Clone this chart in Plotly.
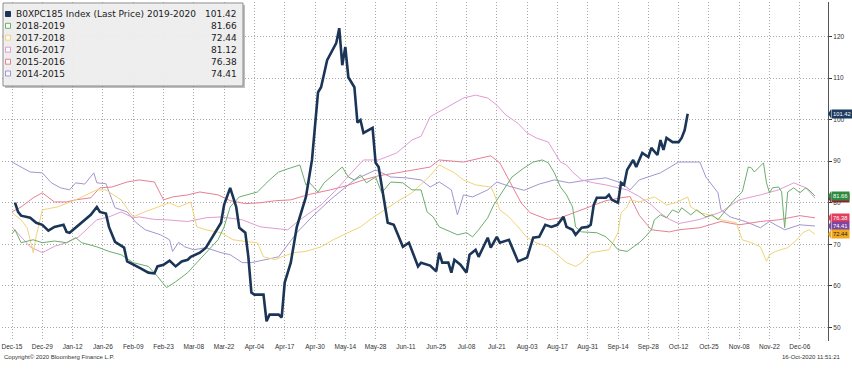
import plotly.graph_objects as go

# ---------------- data ----------------
tick_days = list(range(0, 261, 10))
tick_labels = ["Dec-15", "Dec-29", "Jan-12", "Jan-26", "Feb-09", "Feb-23", "Mar-08",
               "Mar-22", "Apr-04", "Apr-17", "Apr-30", "May-14", "May-28", "Jun-11",
               "Jun-25", "Jul-08", "Jul-21", "Aug-03", "Aug-17", "Aug-31", "Sep-14",
               "Sep-28", "Oct-12", "Oct-25", "Nov-08", "Nov-22", "Dec-06"]
y_ticks = [50, 60, 70, 80, 90, 100, 110, 120]

main_days = [1, 2, 3, 6, 8, 10, 12, 14, 17, 18, 19, 21, 23, 26, 28, 29, 31, 32, 34, 36,
             37, 38, 41, 42, 45, 47, 48, 50, 52, 54, 56, 58, 59, 62, 64, 66, 69, 70, 72, 74,
             75, 77, 78, 79, 80, 83, 84, 85, 88, 89, 90, 92, 94, 97, 99, 101, 102, 104, 106, 107,
             108, 109, 110, 111, 113, 114, 115, 116, 119, 120, 121, 124, 126, 129, 131, 134, 135, 138, 140, 141,
             142, 144, 145, 146, 148, 150, 151, 153, 154, 157, 158, 160, 161, 164, 167, 170, 172, 174, 176, 178,
             180, 182, 183, 185, 186, 188, 190, 191, 192, 193, 196, 197, 198, 200, 201, 202, 203, 204, 205, 206,
             208, 210, 211, 213, 214, 215, 216, 218, 220, 221, 222, 223]
main_vals = [80.0, 77.8, 76.9, 76.4, 75.2, 74.7, 73.3, 74.2, 74.7, 73.0, 72.8, 74.0, 75.2, 77.1, 79.0, 77.8, 77.4, 74.2, 70.6, 69.7,
             69.2, 65.9, 64.9, 64.4, 63.2, 63.0, 64.7, 65.1, 66.1, 64.7, 65.9, 66.3, 67.0, 68.0, 69.2, 71.6, 75.2, 79.5, 83.6, 79.0,
             74.0, 72.8, 67.0, 58.4, 57.9, 57.9, 51.5, 53.1, 53.1, 52.4, 60.8, 65.6, 74.2, 81.4, 90.3, 106.6, 107.8, 114.3, 117.2, 118.4,
             122.0, 113.1, 117.5, 110.2, 107.8, 99.3, 99.9, 96.8, 98.0, 89.6, 88.6, 75.2, 74.7, 69.4, 70.4, 64.7, 65.6, 64.9, 63.5, 68.0,
             65.6, 65.6, 63.2, 66.3, 65.1, 63.2, 67.5, 68.7, 67.0, 71.6, 69.2, 71.8, 70.4, 71.1, 65.9, 66.8, 71.6, 71.8, 74.7, 74.2,
             74.7, 76.6, 74.2, 73.5, 72.3, 74.0, 74.2, 74.7, 79.5, 81.2, 81.2, 81.9, 80.7, 80.0, 84.8, 84.3, 87.9, 89.1, 90.3, 88.6,
             92.0, 91.0, 93.2, 91.5, 95.1, 92.7, 95.6, 94.6, 94.6, 95.6, 97.5, 101.42]

y1819_days = [0, 1, 3, 7, 10, 14, 18, 21, 23, 28, 32, 36, 40, 45, 48, 51, 54, 58, 61, 64,
              68, 70, 72, 75, 81, 85, 88, 92, 95, 97, 98, 101, 103, 106, 109, 111, 113, 115, 117, 120,
              122, 125, 129, 132, 135, 137, 139, 141, 145, 147, 150, 152, 154, 157, 159, 163, 165, 169, 172, 175,
              177, 179, 181, 183, 185, 186, 188, 193, 196, 198, 200, 203, 205, 207, 209, 211, 212, 214, 216, 218,
              220, 221, 224, 226, 229, 231, 233, 235, 237, 239, 241, 243, 244, 245, 248, 249, 250, 251, 253, 254,
              255, 256, 258, 260, 262, 263, 265]
y1819_vals = [72.5, 73.5, 70.4, 71.1, 70.4, 70.8, 70.4, 71.6, 70.4, 69.4, 68.3, 67.5, 65.6, 64.7, 62.3, 59.6, 61.0, 63.2, 65.6, 68.0,
              71.1, 74.2, 79.0, 81.4, 82.6, 85.5, 87.4, 88.4, 89.1, 84.3, 85.0, 82.6, 84.8, 86.7, 88.6, 86.2, 85.5, 86.7, 84.8, 86.2,
              82.4, 85.0, 84.8, 83.1, 83.1, 77.8, 76.6, 74.2, 72.8, 72.3, 72.8, 71.8, 73.5, 76.4, 79.5, 83.8, 86.2, 88.4, 89.8, 90.3,
              89.6, 87.2, 83.8, 81.9, 79.0, 74.2, 73.0, 72.8, 71.8, 70.4, 68.7, 68.3, 69.4, 70.4, 71.8, 73.5, 75.9, 77.1, 76.4, 78.3,
              77.6, 78.8, 77.1, 78.3, 76.6, 77.1, 75.9, 77.8, 79.5, 81.2, 82.6, 88.6, 88.4, 87.4, 89.6, 84.8, 82.4, 83.6, 83.8, 82.6,
              74.0, 82.6, 83.6, 82.4, 83.6, 83.1, 81.66]

y1718_days = [0, 3, 5, 7, 8, 10, 15, 21, 28, 31, 36, 40, 43, 48, 52, 55, 59, 61, 64, 69,
              73, 78, 81, 83, 87, 89, 93, 97, 102, 106, 111, 115, 119, 124, 128, 132, 135, 138, 141, 146,
              149, 153, 158, 159, 161, 164, 167, 170, 173, 177, 180, 183, 186, 188, 191, 194, 197, 200, 201, 203,
              204, 207, 212, 216, 219, 223, 224, 227, 230, 234, 237, 239, 241, 244, 247, 249, 250, 252, 256, 259,
              261, 263, 265]
y1718_vals = [77.6, 75.9, 74.0, 68.0, 72.0, 78.3, 79.0, 80.7, 83.1, 83.1, 80.7, 76.6, 77.6, 79.0, 80.0, 79.0, 80.2, 74.2, 73.5, 72.8,
              71.1, 70.6, 70.4, 67.0, 66.3, 67.0, 68.0, 68.3, 69.4, 71.1, 72.8, 74.2, 76.4, 78.8, 80.7, 82.4, 84.5, 86.5, 89.1, 87.2,
              85.5, 84.3, 83.8, 82.4, 78.3, 76.6, 74.2, 71.6, 70.4, 69.4, 67.5, 65.6, 64.7, 65.6, 68.0, 68.3, 68.7, 72.8, 77.6, 79.0,
              80.7, 80.2, 81.4, 79.5, 80.0, 81.4, 79.0, 77.6, 77.1, 75.9, 75.5, 75.2, 71.1, 70.4, 69.4, 65.9, 67.5, 68.3, 69.2, 71.1,
              72.8, 73.5, 72.44]

y1617_days = [0, 6, 10, 14, 18, 22, 28, 32, 36, 40, 42, 47, 51, 58, 64, 69, 76, 82, 91, 95,
              102, 107, 112, 116, 121, 127, 132, 135, 138, 141, 145, 149, 153, 157, 160, 163, 167, 170, 173, 177,
              179, 181, 183, 185, 188, 192, 196, 200, 203, 207, 211, 214, 217, 220, 224, 227, 234, 240, 247, 253,
              258, 262, 265]
y1617_vals = [74.2, 69.4, 68.0, 69.5, 70.4, 71.8, 75.9, 76.6, 77.8, 76.4, 76.6, 76.0, 75.9, 75.5, 76.4, 76.6, 75.9, 74.2, 73.5, 75.9,
              79.5, 83.1, 87.2, 90.3, 90.3, 92.0, 95.1, 96.0, 100.7, 101.9, 103.5, 105.2, 105.9, 105.2, 103.5, 101.1, 99.1, 96.8, 95.6, 94.6,
              92.2, 89.8, 89.1, 87.4, 85.5, 84.8, 84.3, 83.6, 83.1, 81.5, 79.5, 77.5, 76.0, 75.0, 75.5, 76.0, 77.8, 80.7, 81.9, 83.1,
              84.8, 83.6, 81.12]

y1516_days = [0, 3, 7, 10, 14, 18, 21, 26, 29, 33, 38, 42, 47, 50, 53, 58, 62, 68, 72, 77,
              82, 87, 92, 98, 105, 110, 116, 121, 127, 138, 141, 149, 158, 161, 164, 168, 171, 177, 181, 186,
              192, 196, 201, 204, 207, 211, 217, 220, 227, 234, 240, 247, 253, 260, 265]
y1516_vals = [77.8, 79.0, 81.2, 82.4, 80.2, 80.2, 80.7, 81.2, 83.6, 83.8, 85.0, 85.5, 85.0, 80.7, 81.4, 81.9, 82.6, 81.9, 80.5, 79.8,
              80.0, 80.5, 80.7, 82.0, 83.1, 84.0, 85.5, 86.5, 87.2, 88.6, 90.3, 89.8, 91.3, 89.6, 85.5, 80.0, 77.6, 75.9, 76.4, 77.8,
              79.5, 80.5, 81.2, 81.5, 77.0, 73.5, 73.0, 73.5, 74.0, 75.5, 74.7, 75.5, 75.9, 76.9, 76.38]

y1415_days = [0, 6, 10, 13, 16, 19, 21, 24, 27, 28, 31, 32, 34, 36, 38, 41, 44, 49, 52, 53,
              55, 57, 60, 64, 69, 72, 76, 79, 83, 88, 94, 99, 105, 113, 120, 125, 130, 135, 138, 141,
              145, 147, 149, 152, 157, 160, 164, 169, 174, 179, 184, 190, 196, 201, 204, 207, 214, 220, 227, 229,
              233, 234, 237, 242, 247, 250, 255, 260, 265]
y1415_vals = [89.8, 87.4, 87.2, 84.8, 83.6, 83.1, 84.8, 84.5, 87.2, 84.8, 84.6, 82.6, 78.8, 78.3, 77.8, 75.2, 73.5, 72.3, 71.1, 68.3,
              70.5, 69.4, 68.7, 69.2, 68.0, 67.5, 65.6, 65.6, 66.3, 67.0, 72.8, 76.6, 80.7, 85.5, 87.9, 86.2, 86.0, 85.5, 83.8, 85.0,
              83.1, 77.1, 81.9, 81.4, 83.1, 85.0, 84.0, 83.0, 84.5, 85.5, 84.8, 85.5, 86.0, 84.8, 83.1, 85.5, 87.2, 89.8, 89.8, 86.2,
              82.4, 78.3, 76.6, 75.5, 74.0, 75.5, 73.5, 74.7, 74.41]

series_names = ["B0XPC185 Index (Last Price) 2019-2020", "2018-2019", "2017-2018",
                "2016-2017", "2015-2016", "2014-2015"]
last_values = [101.42, 81.66, 72.44, 81.12, 76.38, 74.41]

# ---------------- styles ----------------
line_colors = ["#1b3556", "#6cae6c", "#f0d47a", "#e39bd2", "#e77f95", "#a396cf"]
line_widths = [2.6, 1, 1, 1, 1, 1]
tag_colors = ["#1d3c5f", "#2e8b3e", "#f0a91e", "#8b2332", "#e43d5c", "#7c47a1"]
tag_text = ["white", "white", "#222222", "white", "white", "white"]

all_days = [main_days, y1819_days, y1718_days, y1617_days, y1516_days, y1415_days]
all_vals = [main_vals, y1819_vals, y1718_vals, y1617_vals, y1516_vals, y1415_vals]
for d, v in zip(all_days, all_vals):
    assert len(d) == len(v), (len(d), len(v))

W, H = 852, 370
ML, MR, MT, MB = 2, 24, 2, 29
PW, PH = W - ML - MR, H - MT - MB


def fx(px):
    return (px - ML) / PW


def fy(py):
    return 1 - (py - MT) / PH


fig = go.Figure()
for k in [5, 4, 3, 2, 1, 0]:
    fig.add_trace(go.Scatter(x=all_days[k], y=all_vals[k], mode="lines",
                             line=dict(color=line_colors[k], width=line_widths[k]),
                             name=series_names[k], hoverinfo="skip"))

shapes = []
annotations = []

# legend box
shapes.append(dict(type="rect", xref="paper", yref="paper", x0=fx(5), x1=fx(245),
                   y0=fy(88), y1=fy(5), fillcolor="rgba(0,0,0,0.25)", line=dict(width=0), layer="above"))
shapes.append(dict(type="rect", xref="paper", yref="paper", x0=fx(3), x1=fx(243),
                   y0=fy(86), y1=fy(3), fillcolor="rgba(240,240,240,0.95)",
                   line=dict(color="#8c8c8c", width=1), layer="above"))
rows_py = [14, 25.8, 37.7, 49.7, 61.7, 73.5]
for k, py in enumerate(rows_py):
    shapes.append(dict(type="rect", xref="paper", yref="paper", x0=fx(5.5), x1=fx(10.5),
                       y0=fy(py + 2.5), y1=fy(py - 2.5),
                       fillcolor=line_colors[0] if k == 0 else "rgba(255,255,255,0.6)",
                       line=dict(color=line_colors[k], width=1), layer="above"))
    annotations.append(dict(xref="paper", yref="paper", x=fx(14), y=fy(py), xanchor="left",
                            yanchor="middle", text=series_names[k], showarrow=False,
                            font=dict(family="DejaVu Sans", size=9, color="#1a1a1a")))
    annotations.append(dict(xref="paper", yref="paper", x=fx(239), y=fy(py), xanchor="right",
                            yanchor="middle", text="%.2f" % last_values[k], showarrow=False,
                            font=dict(family="DejaVu Sans", size=9, color="#1a1a1a")))

# last value tags on the right axis
tag_order = [3, 1, 4, 5, 2, 0]
for k in tag_order:
    v = last_values[k]
    shapes.append(dict(type="path", xref="paper", yref="y",
                       path="M %f,%f L %f,%f L %f,%f Z" % (fx(828), v, fx(831), v + 1.1, fx(831), v - 1.1),
                       fillcolor=tag_colors[k], line=dict(width=0), layer="above"))
    annotations.append(dict(xref="paper", yref="y", x=fx(830.5), y=v, xanchor="left", yanchor="middle",
                            text="%.2f" % v, showarrow=False, bgcolor=tag_colors[k], borderpad=1,
                            font=dict(family="Liberation Sans", size=5.8, color=tag_text[k])))

annotations.append(dict(xref="paper", yref="paper", x=fx(2), y=fy(357), xanchor="left", yanchor="middle",
                        text="Copyright\u00a9 2020 Bloomberg Finance L.P.", showarrow=False,
                        font=dict(family="Liberation Sans", size=6, color="#333333")))
annotations.append(dict(xref="paper", yref="paper", x=fx(843), y=fy(357), xanchor="right", yanchor="middle",
                        text="16-Oct-2020 11:51:21", showarrow=False,
                        font=dict(family="Liberation Sans", size=6, color="#333333")))

grid_col = "#a8a8a8"
fig.update_layout(
    width=W, height=H, margin=dict(l=ML, r=MR, t=MT, b=MB, pad=0),
    paper_bgcolor="white", plot_bgcolor="white", showlegend=False,
    shapes=shapes, annotations=annotations,
    xaxis=dict(range=[-3.3, 269.3], tickmode="array", tickvals=tick_days, ticktext=tick_labels,
               showgrid=True, gridcolor=grid_col, griddash="1px,2px", gridwidth=1,
               zeroline=False, showline=False, ticks="", automargin=False,
               tickfont=dict(family="Liberation Sans", size=6.5, color="#333333")),
    yaxis=dict(range=[46.75, 128.3], side="right", tickmode="array", tickvals=y_ticks,
               showgrid=True, gridcolor=grid_col, griddash="1px,2px", gridwidth=1,
               zeroline=False, showline=True, linecolor="#555555", linewidth=1,
               ticks="outside", ticklen=3, tickcolor="#333333", automargin=False,
               tickfont=dict(family="Liberation Sans", size=6.5, color="#333333")),
)

fig.write_html("out.html", config={"displayModeBar": False, "staticPlot": True},
               post_script="document.body.style.margin='0';document.body.style.padding='0';"
                           "document.documentElement.style.margin='0';")
